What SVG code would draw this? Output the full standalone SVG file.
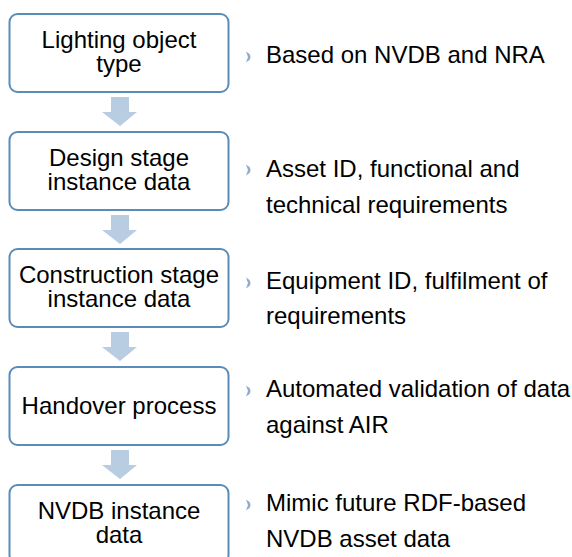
<svg xmlns="http://www.w3.org/2000/svg" width="572" height="557" viewBox="0 0 572 557">
  <style>
    .box { fill: #ffffff; stroke: #5b8cb9; stroke-width: 2; }
    .lbl { font-family: "Liberation Sans", Arial, sans-serif; font-size: 24px; fill: #000000; text-anchor: middle; }
    .note { font-family: "Liberation Sans", Arial, sans-serif; font-size: 24px; fill: #000000; }
    .arrow { fill: #b8cce2; }
    .bullet { fill: #8eaccb; }
  </style>
  <defs>
    <path id="blt" class="bullet" d="M0,-5.5 L3.5,-3 Q5.5,0 3.5,3 L0,5.5 L2,0 Z"/>
    <path id="arr" class="arrow" d="M111,0 L129,0 L129,15 L137,15 L120,29 L102,15 L111,15 Z"/>
  </defs>
  <rect width="572" height="557" fill="#ffffff"/>
  <g id="connectors">
    <use href="#arr" y="97"/>
    <use href="#arr" y="215"/>
    <use href="#arr" y="332"/>
    <use href="#arr" y="450"/>
  </g>
  <g id="node1">
    <rect class="box" x="9.5" y="14" width="219" height="78" rx="8"/>
    <text class="lbl" x="119" y="48">Lighting object</text>
    <text class="lbl" x="119" y="72">type</text>
  </g>
  <g id="node2">
    <rect class="box" x="9.5" y="132" width="219" height="78" rx="8"/>
    <text class="lbl" x="119" y="166">Design stage</text>
    <text class="lbl" x="119" y="190">instance data</text>
  </g>
  <g id="node3">
    <rect class="box" x="9.5" y="249" width="219" height="78" rx="8"/>
    <text class="lbl" x="119" y="283">Construction stage</text>
    <text class="lbl" x="119" y="307">instance data</text>
  </g>
  <g id="node4">
    <rect class="box" x="9.5" y="367" width="219" height="78" rx="8"/>
    <text class="lbl" x="119" y="414">Handover process</text>
  </g>
  <g id="node5">
    <rect class="box" x="9.5" y="485" width="219" height="78" rx="8"/>
    <text class="lbl" x="119" y="519">NVDB instance</text>
    <text class="lbl" x="119" y="543">data</text>
  </g>
  <g id="notes">
    <use href="#blt" x="246" y="57"/>
    <text class="note" x="266" y="63">Based on NVDB and NRA</text>
    <use href="#blt" x="246" y="170"/>
    <text class="note" x="266" y="177">Asset ID, functional and</text>
    <text class="note" x="266" y="213">technical requirements</text>
    <use href="#blt" x="246" y="283"/>
    <text class="note" x="266" y="289">Equipment ID, fulfilment of</text>
    <text class="note" x="266" y="324">requirements</text>
    <use href="#blt" x="246" y="391"/>
    <text class="note" x="266" y="397">Automated validation of data</text>
    <text class="note" x="266" y="433">against AIR</text>
    <use href="#blt" x="246" y="505"/>
    <text class="note" x="266" y="511">Mimic future RDF-based</text>
    <text class="note" x="266" y="547">NVDB asset data</text>
  </g>
</svg>
